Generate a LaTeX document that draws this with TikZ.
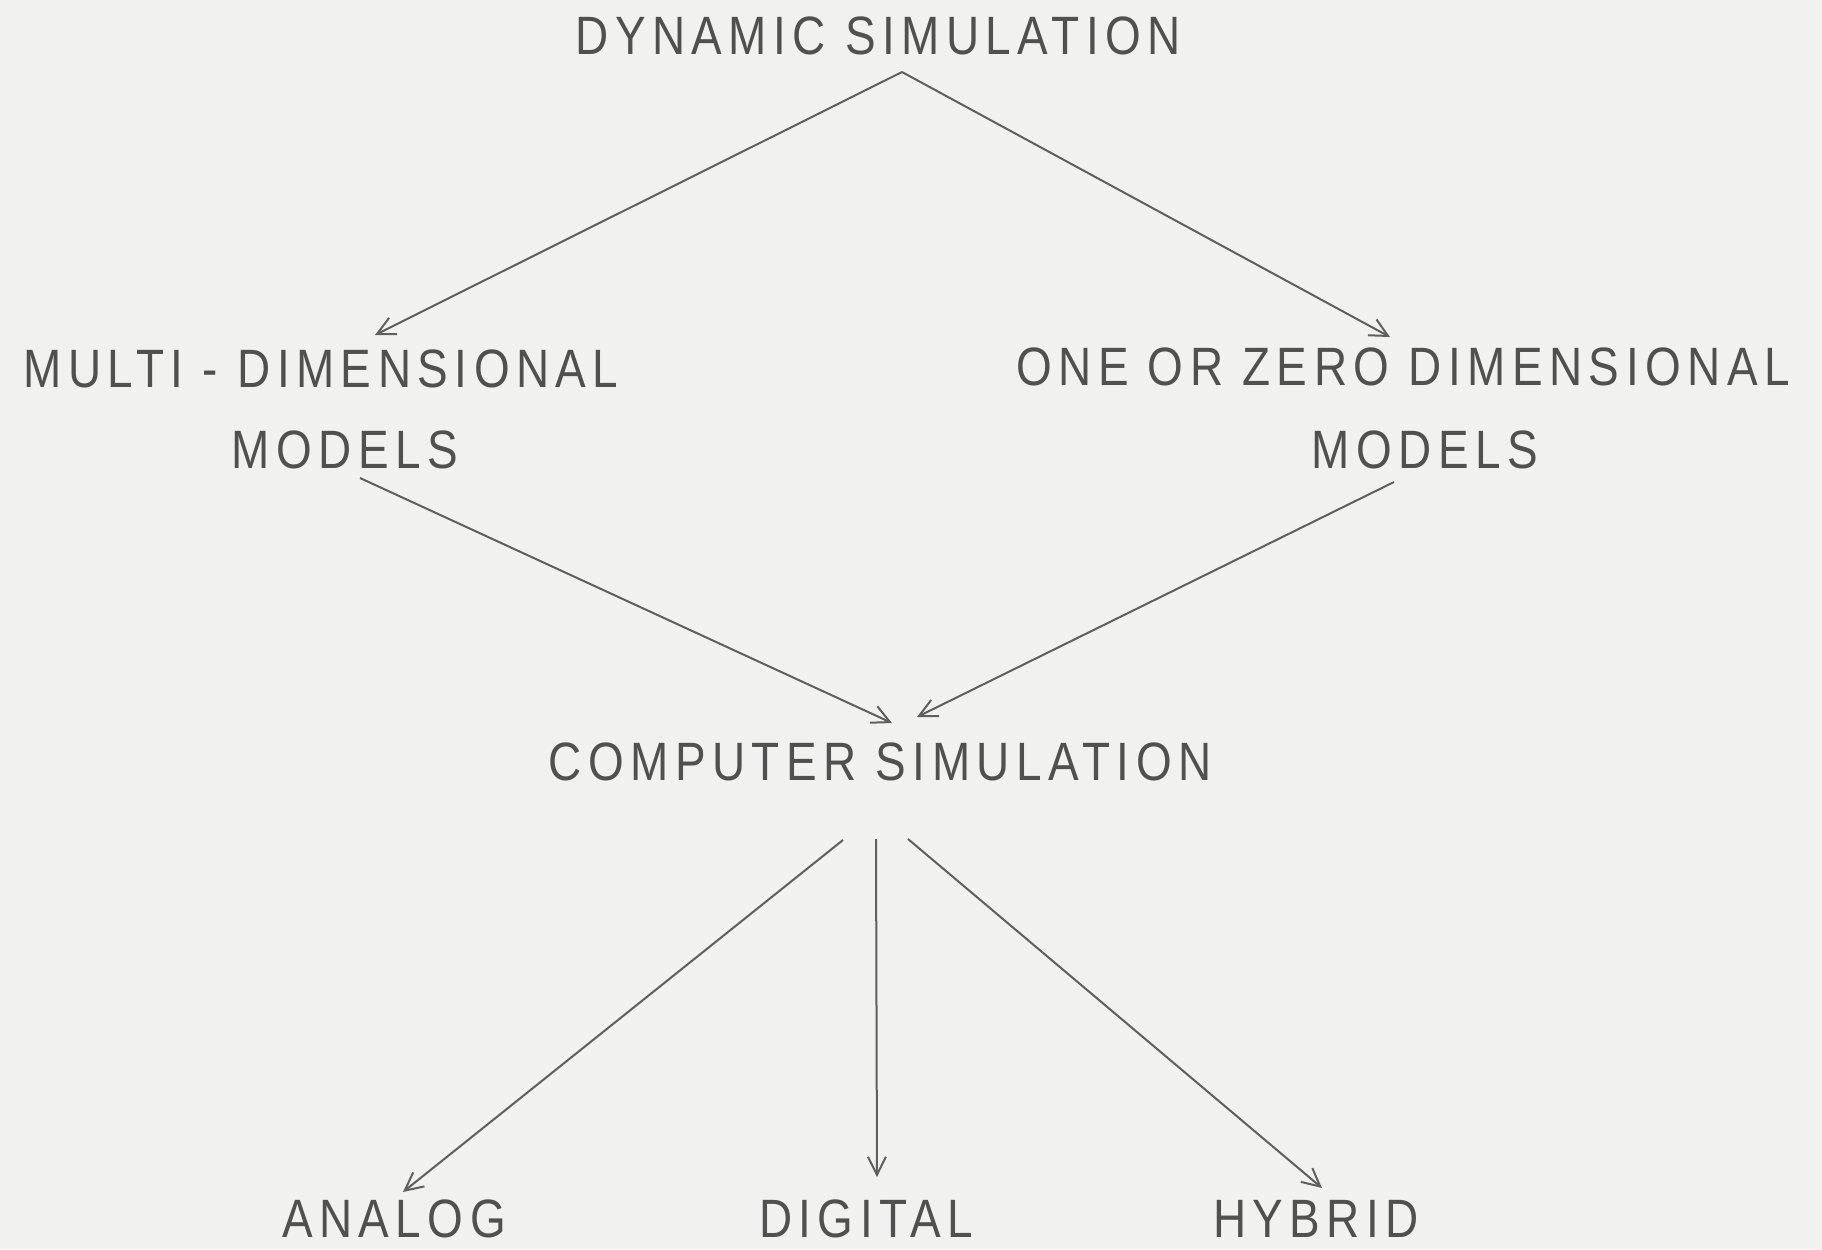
\documentclass[tikz,border=0pt]{standalone}
\usepackage{fontspec}
\setmainfont{Liberation Sans}[FakeStretch=0.85,LetterSpace=12]
\usetikzlibrary{arrows.meta,calc}
\definecolor{paper}{RGB}{241,241,239}
\definecolor{ink}{RGB}{80,80,80}
\definecolor{lineink}{RGB}{95,95,95}
\tikzset{
  lbl/.style={inner sep=0pt,text=ink,font=\fontsize{27}{32}\selectfont},
  arr/.style={draw=lineink,line width=1pt,-{Straight Barb[length=9pt,width=9pt,line width=1pt]}}
}
\begin{document}
\begin{tikzpicture}[x=0.5pt,y=-0.5pt]
\fill[paper] (0,0) rectangle (1822,1249);
\useasboundingbox (0,0) rectangle (1822,1249);
\node[lbl] (ds) at (878,36) {DYNAMIC SIMULATION};
\node[lbl] (mm1) at (321,369) {MULTI - DIMENSIONAL};
\node[lbl] (mm2) at (345,450) {MODELS};
\node[lbl] (oz1) at (1403,367) {ONE OR ZERO DIMENSIONAL};
\node[lbl] (oz2) at (1425,450) {MODELS};
\node[lbl] (cs) at (880,762) {COMPUTER SIMULATION};
\node[lbl] (an) at (394,1219) {ANALOG};
\node[lbl] (dg) at (866,1219) {DIGITAL};
\node[lbl] (hy) at (1316,1219) {HYBRID};
\draw[arr] ($(ds.center)+(24,36)$) -- ($(mm1.center)+(54,-34)$);
\draw[arr] ($(ds.center)+(24,36)$) -- ($(oz1.center)+(-13,-30)$);
\draw[arr] ($(mm2.center)+(15,28)$) -- ($(cs.center)+(12,-39)$);
\draw[arr] ($(oz2.center)+(-31,32)$) -- ($(cs.center)+(37,-45)$);
\draw[arr] ($(cs.center)+(-37,78)$) -- ($(an.center)+(9,-27)$);
\draw[arr] ($(cs.center)+(-4,77)$) -- ($(dg.center)+(11,-42)$);
\draw[arr] ($(cs.center)+(28,77)$) -- ($(hy.center)+(6,-31)$);
\end{tikzpicture}
\end{document}
